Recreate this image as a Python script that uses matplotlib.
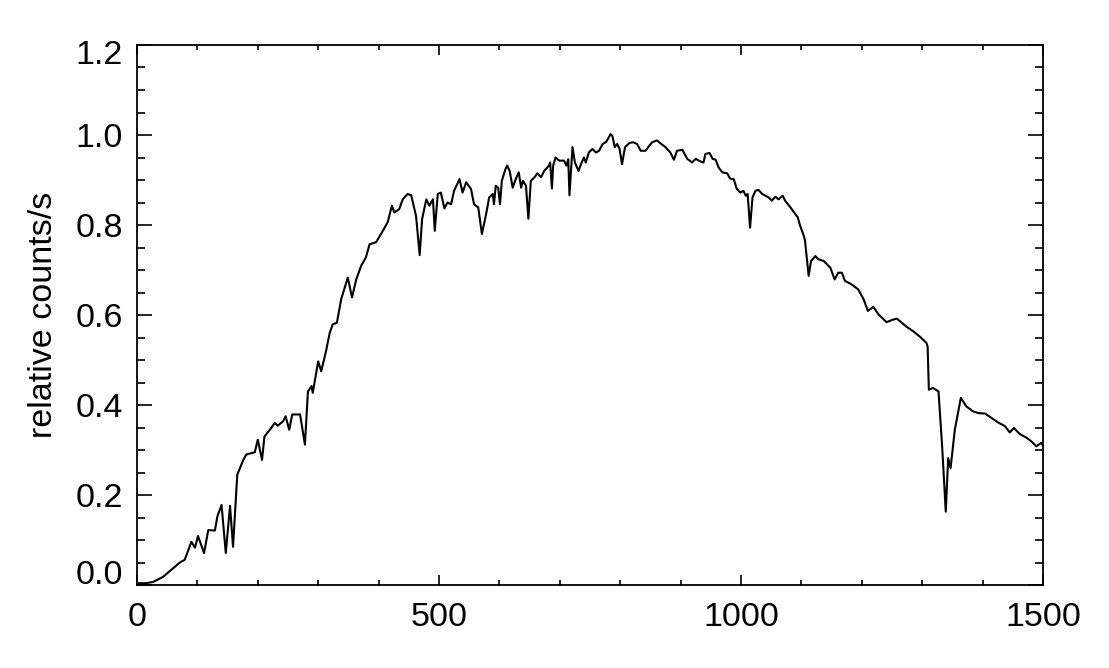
import matplotlib
matplotlib.use("Agg")
import matplotlib.pyplot as plt
import matplotlib.transforms as mtransforms
from matplotlib.ticker import MultipleLocator

channel = [0, 15, 27, 43, 58, 71, 79, 90, 96, 101, 111, 118, 129, 133, 140, 147, 154, 159,
           166, 176, 181, 195, 200, 207, 211, 220, 228, 233, 242, 246, 252, 257, 270, 278,
           283, 289, 291, 300, 305, 313, 319, 324, 331, 338, 349, 356, 363, 371, 379, 385,
           396, 404, 415, 422, 426, 434, 440, 448, 454, 462, 468, 472, 479, 484, 490, 493,
           498, 503, 509, 514, 520, 525, 534, 539, 545, 553, 558, 565, 571, 578, 583, 589,
           591, 594, 598, 601, 604, 610, 613, 617, 622, 627, 632, 636, 639, 644, 648, 652,
           658, 663, 669, 674, 682, 684, 687, 689, 693, 699, 707, 711, 714, 716, 721, 725,
           731, 735, 740, 743, 748, 754, 760, 765, 771, 777, 784, 787, 791, 795, 799, 803,
           808, 815, 821, 828, 834, 842, 848, 853, 861, 868, 875, 883, 889, 894, 903, 911,
           919, 925, 933, 938, 941, 948, 953, 958, 963, 969, 977, 982, 988, 993, 999, 1004,
           1008, 1011, 1015, 1019, 1024, 1029, 1035, 1046, 1051, 1057, 1062, 1069, 1073,
           1082, 1090, 1094, 1098, 1104, 1106, 1112, 1116, 1123, 1128, 1137, 1142, 1148,
           1155, 1161, 1167, 1172, 1183, 1194, 1203, 1210, 1219, 1228, 1241, 1250, 1258,
           1266, 1274, 1285, 1296, 1307, 1309, 1311, 1318, 1327, 1333, 1339, 1343, 1347,
           1354, 1364, 1373, 1384, 1393, 1404, 1415, 1426, 1437, 1445, 1452, 1461, 1473,
           1481, 1489, 1497, 1500]

rel_counts = [0.004, 0.004, 0.007, 0.018, 0.035, 0.050, 0.056, 0.096, 0.083, 0.109, 0.071,
              0.122, 0.121, 0.152, 0.178, 0.071, 0.176, 0.085, 0.245, 0.278, 0.290, 0.295,
              0.323, 0.278, 0.330, 0.345, 0.360, 0.354, 0.364, 0.375, 0.345, 0.379, 0.379,
              0.312, 0.430, 0.442, 0.427, 0.497, 0.475, 0.520, 0.560, 0.579, 0.583, 0.635,
              0.683, 0.639, 0.679, 0.709, 0.728, 0.757, 0.762, 0.780, 0.806, 0.843, 0.828,
              0.835, 0.857, 0.869, 0.866, 0.820, 0.733, 0.813, 0.857, 0.843, 0.857, 0.787,
              0.869, 0.872, 0.837, 0.850, 0.846, 0.876, 0.902, 0.872, 0.895, 0.880, 0.846,
              0.839, 0.780, 0.824, 0.861, 0.869, 0.846, 0.887, 0.883, 0.846, 0.898, 0.924,
              0.932, 0.920, 0.883, 0.902, 0.917, 0.883, 0.898, 0.887, 0.814, 0.898, 0.906,
              0.915, 0.906, 0.920, 0.932, 0.939, 0.881, 0.932, 0.950, 0.943, 0.943, 0.932,
              0.946, 0.866, 0.973, 0.939, 0.920, 0.935, 0.950, 0.939, 0.961, 0.969, 0.961,
              0.965, 0.980, 0.985, 1.002, 0.998, 0.973, 0.980, 0.969, 0.935, 0.973, 0.982,
              0.984, 0.980, 0.965, 0.965, 0.976, 0.984, 0.988, 0.980, 0.973, 0.961, 0.945,
              0.965, 0.967, 0.947, 0.939, 0.947, 0.941, 0.939, 0.958, 0.960, 0.947, 0.945,
              0.928, 0.917, 0.915, 0.903, 0.902, 0.880, 0.872, 0.876, 0.865, 0.869, 0.794,
              0.861, 0.876, 0.878, 0.869, 0.861, 0.854, 0.863, 0.857, 0.865, 0.854, 0.839,
              0.824, 0.817, 0.798, 0.776, 0.765, 0.687, 0.720, 0.731, 0.724, 0.720, 0.713,
              0.705, 0.679, 0.694, 0.694, 0.676, 0.668, 0.657, 0.635, 0.609, 0.618, 0.601,
              0.584, 0.589, 0.592, 0.583, 0.574, 0.564, 0.552, 0.538, 0.530, 0.434, 0.438,
              0.430, 0.308, 0.163, 0.282, 0.260, 0.345, 0.416, 0.397, 0.386, 0.382, 0.381,
              0.371, 0.361, 0.353, 0.339, 0.349, 0.336, 0.327, 0.319, 0.308, 0.316, 0.310]

x_ticks = [0, 500, 1000, 1500]
y_ticks = [0.0, 0.2, 0.4, 0.6, 0.8, 1.0, 1.2]
y_label = "relative counts/s"

plt.rcParams['font.family'] = ['Liberation Sans', 'DejaVu Sans']
FS = 24.5

fig = plt.figure(figsize=(11.09, 6.68), dpi=100)
ax = fig.add_axes([137/1109, 1 - 585/668, (1043 - 137)/1109, (585 - 45)/668])

ax.plot(channel, rel_counts, color='black', lw=1.5)

ax.set_xlim(0, 1500)
ax.set_ylim(0, 1.2)
ax.set_xticks(x_ticks)
ax.set_yticks(y_ticks)
ax.set_yticklabels([f"{v:.1f}" for v in y_ticks])
ax.xaxis.set_minor_locator(MultipleLocator(100))
ax.yaxis.set_minor_locator(MultipleLocator(0.05))

for s in ax.spines.values():
    s.set_linewidth(1.3)

ax.tick_params(axis='x', which='major', direction='in', length=7.5, width=1.2,
               top=True, bottom=True, labelsize=FS, pad=12)
ax.tick_params(axis='x', which='minor', direction='in', length=3.8, width=1.2,
               top=True, bottom=True)
ax.tick_params(axis='y', which='major', direction='in', length=10.5, width=1.2,
               left=True, right=True, labelsize=FS, pad=10)
ax.tick_params(axis='y', which='minor', direction='in', length=6, width=1.2,
               left=True, right=True)

ax.set_ylabel(y_label, fontsize=FS, labelpad=12)

# nudge the end labels inward like the reference
ylabels = ax.get_yticklabels()
ylabels[0].set_transform(ylabels[0].get_transform() +
                         mtransforms.ScaledTranslation(0, 9/72, fig.dpi_scale_trans))
ylabels[-1].set_transform(ylabels[-1].get_transform() +
                          mtransforms.ScaledTranslation(0, -5/72, fig.dpi_scale_trans))

fig.savefig("out.png", dpi=100)
